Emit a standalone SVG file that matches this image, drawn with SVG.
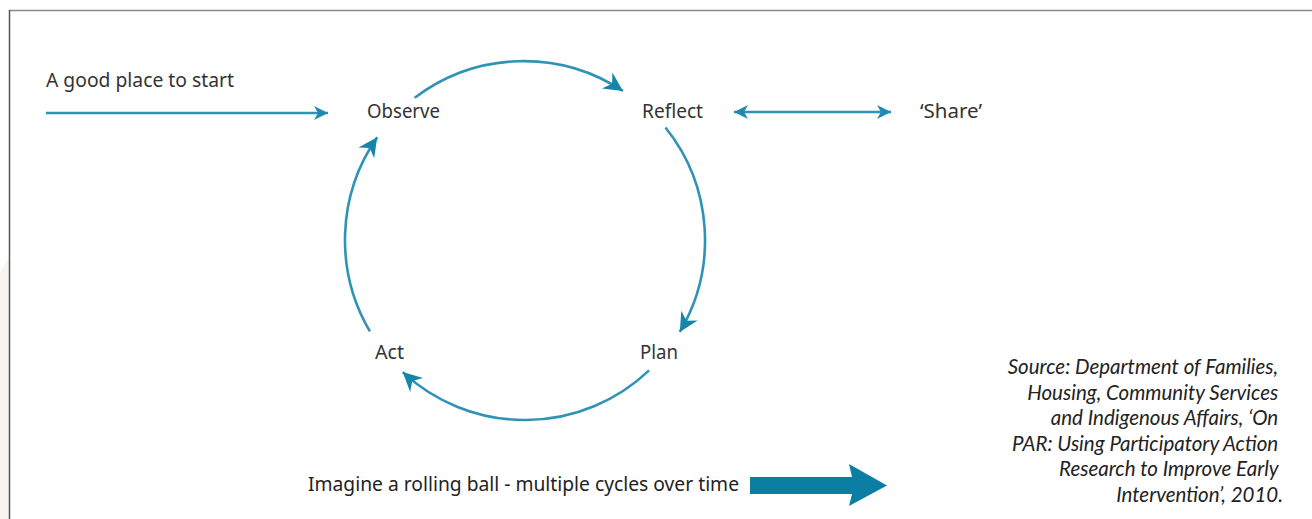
<svg xmlns="http://www.w3.org/2000/svg" width="1312" height="519" viewBox="0 0 1312 519">
<style>
.lbl{font-family:"Noto Sans","Open Sans",sans-serif;font-size:20px;fill:#333}
.src{font-family:Lato,"Noto Sans",sans-serif;font-style:italic;font-size:20.5px;fill:#222}
.arc{fill:none;stroke:#2f93b5;stroke-width:2.6}
.ln{fill:none;stroke:#2f93b5;stroke-width:2.5}
</style>
<defs>
<marker id="ah" markerUnits="userSpaceOnUse" viewBox="-20 -11 22 22" refX="0" refY="0" markerWidth="22" markerHeight="22" orient="auto">
<path d="M0,0 L-19,-9.5 L-13,0 L-19,9.5 Z" fill="#1585aa"/>
</marker>
<marker id="sh" markerUnits="userSpaceOnUse" viewBox="-16 -9 18 18" refX="0" refY="0" markerWidth="18" markerHeight="18" orient="auto-start-reverse">
<path d="M0,0 L-14,-7 L-10,0 L-14,7 Z" fill="#1f8ab0"/>
</marker>
</defs>
<rect width="1312" height="519" fill="#fff"/>
<polygon points="0,272 9,258 9,519 0,519" fill="#f8f4f0"/>
<line x1="9" y1="10.5" x2="1312" y2="10.5" stroke="#8a8a8a" stroke-width="1.5"/>
<line x1="9.5" y1="10" x2="9.5" y2="519" stroke="#555" stroke-width="1.5"/>

<g id="connectors">
<line class="ln" x1="46" y1="113" x2="328" y2="113" marker-end="url(#sh)"/>
<line class="ln" x1="734" y1="112" x2="891" y2="112" marker-start="url(#sh)" marker-end="url(#sh)"/>
<path class="arc" d="M414.7,97.8 A180,180 0 0 1 623,91" marker-end="url(#ah)"/>
<path class="arc" d="M665.5,127.5 A180,180 0 0 1 679.8,331.9" marker-end="url(#ah)"/>
<path class="arc" d="M649.1,370.4 A180,180 0 0 1 402.7,372.1" marker-end="url(#ah)"/>
<path class="arc" d="M369.9,331.4 A180,180 0 0 1 377.2,137.3" marker-end="url(#ah)"/>
</g>

<g id="start"><text class="lbl" x="46" y="87" textLength="188" lengthAdjust="spacingAndGlyphs">A good place to start</text></g>
<g id="observe"><text class="lbl" x="367" y="118" textLength="73" lengthAdjust="spacingAndGlyphs">Observe</text></g>
<g id="reflect"><text class="lbl" x="642" y="118" textLength="61" lengthAdjust="spacingAndGlyphs">Reflect</text></g>
<g id="share"><text class="lbl" x="920" y="118" textLength="62" lengthAdjust="spacingAndGlyphs">‘Share’</text></g>
<g id="act"><text class="lbl" x="375" y="359" textLength="29" lengthAdjust="spacingAndGlyphs">Act</text></g>
<g id="plan"><text class="lbl" x="640" y="359" textLength="38" lengthAdjust="spacingAndGlyphs">Plan</text></g>

<g id="rolling">
<text class="lbl" x="308" y="491" textLength="431" lengthAdjust="spacingAndGlyphs" style="fill:#222">Imagine a rolling ball - multiple cycles over time</text>
<path d="M750,477 L852,477 L849,464 L887,485.5 L849,506 L852,494 L750,494 Z" fill="#0a7fa3"/>
</g>

<g id="source">
<text class="src" text-anchor="end">
<tspan x="1283" y="374">Source: Department of Families,</tspan>
<tspan x="1283" y="399.5">Housing, Community Services</tspan>
<tspan x="1283" y="425">and Indigenous Affairs, ‘On</tspan>
<tspan x="1283" y="450.5">PAR: Using Participatory Action</tspan>
<tspan x="1283" y="476">Research to Improve Early</tspan>
<tspan x="1283" y="501.5">Intervention’, 2010.</tspan>
</text>
</g>
</svg>
